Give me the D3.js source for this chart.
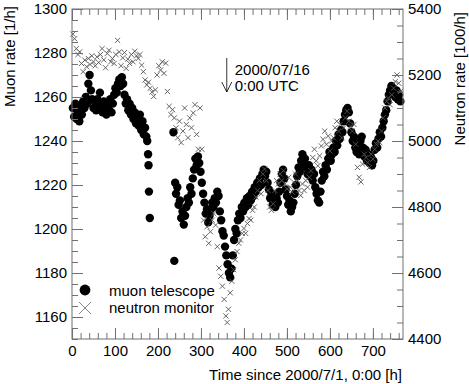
<!DOCTYPE html>
<html><head><meta charset="utf-8">
<script src="https://cdn.jsdelivr.net/npm/d3@7"></script>
<style>
html,body{margin:0;padding:0;background:#fff;}
svg{display:block;font-family:"Liberation Sans",Arial,Helvetica,sans-serif;}
</style></head>
<body>
<svg id="chart" width="469" height="384"></svg>
<script>
// ---- data ----
const muonHours = [2,5,8,11,14,17,20,23,26,29,32,35,38,41,44,47,50,53,56,59,62,65,68,71,74,77,80,83,86,89,92,95,98,101,104,107,110,113,116,119,122,125,128,131,134,137,140,143,146,149,152,155,158,161,164,167,170,173,175,177,178,179,181,
236,238,240,242,245,248,251,254,257,260,263,266,269,272,275,278,281,284,287,290,293,296,299,302,305,308,311,314,317,320,323,326,329,332,335,338,341,344,347,350,353,356,359,362,365,368,371,374,377,380,383,386,389,392,395,398,401,404,407,410,413,416,419,422,425,428,431,434,437,440,443,446,449,452,455,458,461,464,467,470,473,476,479,482,485,488,491,494,497,500,503,506,509,512,515,518,521,524,527,530,533,536,539,542,545,548,551,554,557,560,563,566,569,572,575,578,581,584,587,590,593,596,599,602,605,608,611,614,617,620,623,626,629,632,635,638,641,644,647,650,653,656,659,662,665,668,671,674,677,680,683,686,689,692,695,698,701,704,707,710,713,716,719,722,725,728,731,734,737,740,743,746,749,752,755,758,761,764];
const muonRate = [1255,1251,1257,1250,1253,1249,1256,1252,1258,1255,1260,1257,1266,1270,1263,1259,1255,1258,1254,1259,1256,1262,1257,1253,1258,1255,1252,1257,1254,1259,1253,1257,1261,1264,1262,1266,1268,1265,1269,1266,1261,1257,1259,1254,1257,1252,1255,1250,1253,1248,1251,1247,1252,1245,1249,1243,1246,1242,1240,1234,1229,1217,1205,
1244,1185.5,1221,1216,1219,1211,1213,1205,1208,1202,1206,1210,1214,1212,1219,1216,1223,1227,1232,1229,1233,1230,1226,1221,1216,1212,1207,1209,1203,1206,1209,1212,1210,1214,1212,1217,1215,1208,1204,1199,1197,1192,1188,1184,1180,1178,1182,1188,1195,1200,1198,1204,1207,1205,1210,1208,1212,1210,1214,1211,1215,1213,1217,1215,1219,1217,1221,1219,1223,1220,1225,1227,1224,1226,1221,1218,1214,1216,1211,1213,1210,1214,1212,1217,1221,1225,1227,1223,1218,1215,1211,1213,1208,1210,1212,1216,1220,1224,1228,1226,1231,1234,1230,1232,1228,1225,1229,1224,1227,1222,1225,1219,1216,1213,1212,1217,1222,1226,1224,1229,1227,1232,1235,1231,1234,1237,1235,1240,1238,1243,1241,1245,1244,1249,1252,1254,1255,1253,1248,1244,1240,1242,1237,1235,1238,1234,1240,1242,1237,1233,1236,1231,1234,1230,1233,1229,1231,1236,1239,1237,1241,1244,1242,1246,1249,1252,1254,1258,1261,1263,1265,1264,1262,1260,1263,1259,1261,1258];

const neutronHours = [2,6,10,14,18,22,26,30,34,38,42,46,50,54,58,62,66,70,74,78,82,86,90,94,98,102,106,110,114,118,122,126,130,134,138,142,146,150,154,158,162,166,170,174,178,182,186,190,194,198,202,206,210,214,218,222,226,230,234,238,242,246,250,254,258,262,266,270,274,278,282,286,290,294,298,302,306,310,314,318,322,326,330,334,338,342,346,350,354,358,361,364,368,372,376,380,384,388,392,396,400,404,408,412,416,420,424,428,432,436,440,444,448,452,456,460,464,468,472,476,480,484,488,492,496,500,504,508,512,516,520,524,528,532,536,540,544,548,552,556,560,564,568,572,576,580,584,588,592,596,600,604,608,612,616,620,624,628,632,636,640,644,648,652,656,660,664,668,672,676,680,684,688,692,696,700,704,708,712,716,720,724,728,732,736,740,744,748,752,756,760,764];
const neutronRate = [5324,5310,5280,5262,5270,5235,5210,5245,5225,5250,5232,5258,5240,5228,5255,5238,5262,5280,5246,5222,5265,5275,5240,5250,5235,5262,5305,5270,5228,5252,5268,5220,5248,5235,5262,5240,5272,5258,5250,5262,5230,5210,5185,5170,5178,5160,5148,5135,5155,5200,5228,5215,5240,5205,5236,5150,5105,5080,5095,5070,5040,5010,5060,4995,5030,5100,5050,5010,5070,5040,5085,5110,5020,4975,5100,4975,4760,4710,4740,4690,4725,4760,4780,4745,4680,4615,4590,4560,4520,4470,4450,4490,4540,4575,4610,4640,4665,4690,4700,4720,4735,4720,4750,4765,4760,4790,4800,4830,4850,4880,4840,4900,4915,4880,4850,4800,4790,4810,4850,4880,4870,4900,4880,4910,4870,4855,4890,4860,4845,4875,4900,4880,4850,4835,4870,4850,4880,4860,4890,4910,4950,4975,4940,4925,4955,4985,5005,5030,4990,5015,4970,5000,5010,5040,5060,5030,5050,5010,5040,5070,5090,5060,5045,5030,5050,4990,4920,4890,4876,4930,4960,4950,4935,4920,4960,4945,4975,4990,5000,4995,5030,5070,5100,5120,5130,5110,5140,5160,5180,5200,5175,5150];

const xMajorTicks = [0,100,200,300,400,500,600,700];
const muonTicks = [1160,1180,1200,1220,1240,1260,1280,1300];
const neutronTicks = [4400,4600,4800,5000,5200,5400];
const seriesNames = ["muon telescope","neutron monitor"];
const annotationLines = ["2000/07/16","0:00 UTC"];
const annotationHour = 360;

// ---- layout ----
const svg = d3.select("#chart");
const L = 72, R = 403, T = 9, B = 339;
const axisColor = "#707070";
const fs = 15;

const x = d3.scaleLinear().domain([0,770]).range([L,R]);
const yL = d3.scaleLinear().domain([1150,1300]).range([B,T]);
const yR = d3.scaleLinear().domain([4400,5400]).range([B,T]);

const nd = neutronHours.map((h,i)=>({h, v:neutronRate[i]}));
const md = muonHours.map((h,i)=>({h, v:muonRate[i]}));

svg.append("g").selectAll("circle").data(md).join("circle")
  .attr("cx", d=>x(d.h)).attr("cy", d=>yL(d.v)).attr("r", 4.2).attr("fill","#000");

const s = 2.6;
svg.append("g").attr("stroke","#555").attr("stroke-width",0.9).attr("fill","none")
  .selectAll("path").data(nd).join("path")
  .attr("d", d=>{const cx=x(d.h), cy=yR(d.v);
    return `M${cx-s},${cy-s}L${cx+s},${cy+s}M${cx-s},${cy+s}L${cx+s},${cy-s}`;});

// axes
function styleAxis(g){
  g.select(".domain").remove();
  g.selectAll(".tick line").attr("stroke",axisColor);
  g.selectAll(".tick text").attr("fill","#000").style("font-size",fs+"px")
    .style("font-family",'"Liberation Sans",Arial,sans-serif');
}
const xMinor = d3.range(0,771,20);
svg.append("g").attr("transform",`translate(0,${B})`)
  .call(d3.axisBottom(x).tickValues(xMinor).tickSize(-6).tickFormat("")).call(styleAxis);
svg.append("g").attr("transform",`translate(0,${B})`)
  .call(d3.axisBottom(x).tickValues(xMajorTicks).tickSize(-11).tickPadding(6).tickFormat(d3.format("d"))).call(styleAxis);
svg.append("g").attr("transform",`translate(0,${T})`)
  .call(d3.axisTop(x).tickValues(xMinor).tickSize(-6).tickFormat("")).call(styleAxis);
svg.append("g").attr("transform",`translate(0,${T})`)
  .call(d3.axisTop(x).tickValues(xMajorTicks).tickSize(-11).tickFormat("")).call(styleAxis);

svg.append("g").attr("transform",`translate(${L},0)`)
  .call(d3.axisLeft(yL).tickValues(d3.range(1150,1301,5)).tickSize(-6).tickFormat("")).call(styleAxis);
svg.append("g").attr("transform",`translate(${L},0)`)
  .call(d3.axisLeft(yL).tickValues(muonTicks).tickSize(-11).tickPadding(5).tickFormat(d3.format("d"))).call(styleAxis);

svg.append("g").attr("transform",`translate(${R},0)`)
  .call(d3.axisRight(yR).tickValues(d3.range(4400,5401,50)).tickSize(-6).tickFormat("")).call(styleAxis);
svg.append("g").attr("transform",`translate(${R},0)`)
  .call(d3.axisRight(yR).tickValues(neutronTicks).tickSize(-11).tickPadding(5).tickFormat(d3.format("d"))).call(styleAxis);

svg.append("rect").attr("x",L).attr("y",T).attr("width",R-L).attr("height",B-T)
  .attr("fill","none").attr("stroke",axisColor).attr("stroke-width",1);

// titles
svg.append("text").attr("transform",`translate(15,6) rotate(-90)`).attr("text-anchor","end")
  .style("font-size",fs+"px").text("Muon rate [1/h]");
svg.append("text").attr("transform",`translate(465,12) rotate(-90)`).attr("text-anchor","end")
  .style("font-size",fs+"px").text("Neutron rate [100/h]");
svg.append("text").attr("x",402).attr("y",380).attr("text-anchor","end")
  .style("font-size",fs+"px").text("Time since 2000/7/1, 0:00 [h]");

// annotation arrow
const ax = x(annotationHour);
const ag = svg.append("g").attr("stroke","#000").attr("stroke-width",0.8).attr("fill","none");
ag.append("line").attr("x1",ax).attr("x2",ax).attr("y1",58).attr("y2",92);
ag.append("path").attr("d",`M${ax-5},82L${ax},92L${ax+5},82`);
svg.append("text").attr("x",ax+8).attr("y",75).style("font-size",fs+"px").text(annotationLines[0]);
svg.append("text").attr("x",ax+8).attr("y",91).style("font-size",fs+"px").text(annotationLines[1]);

// legend
svg.append("circle").attr("cx",85).attr("cy",290).attr("r",5.4).attr("fill","#000");
svg.append("path").attr("d","M79,302L91,314M79,314L91,302").attr("stroke","#888").attr("stroke-width",1).attr("fill","none");
svg.append("text").attr("x",109).attr("y",296).style("font-size",fs+"px").text(seriesNames[0]);
svg.append("text").attr("x",109).attr("y",313).style("font-size",fs+"px").text(seriesNames[1]);
</script>
</body></html>
